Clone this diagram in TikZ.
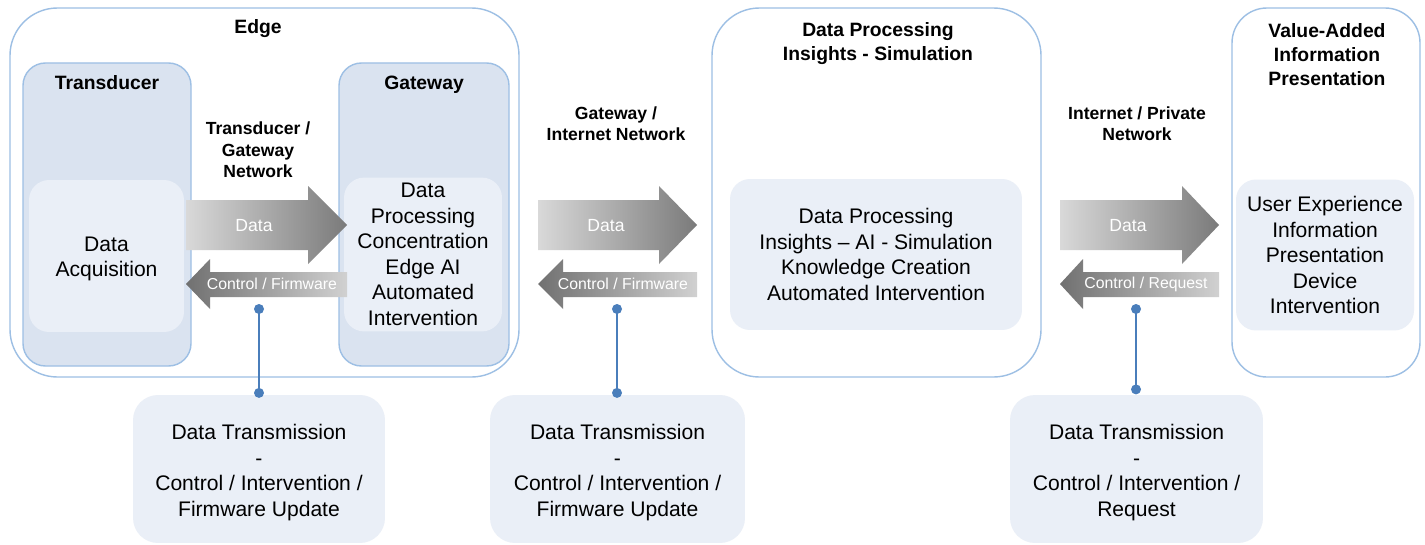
\documentclass[tikz,border=0pt]{standalone}
\usepackage{fontspec}
\setmainfont{Liberation Sans}
\definecolor{zoneline}{HTML}{9DBFE4}
\definecolor{unitfill}{HTML}{DAE3F0}
\definecolor{cardfill}{HTML}{EAEFF7}
\definecolor{pinblue}{HTML}{4A7EBB}
\tikzset{
  zone/.style={draw=zoneline, line width=0.8pt, rounded corners=0.95cm},
  unit/.style={draw=zoneline, fill=unitfill, line width=0.8pt, rounded corners=0.45cm},
  card/.style={fill=cardfill, rounded corners=0.4cm, align=center,
    font=\fontsize{12}{14.5}\selectfont},
  cardtext/.style={align=center, font=\fontsize{12}{14.5}\selectfont},
  boldtitle/.style={font=\fontsize{11}{13.6}\selectfont\bfseries, align=center},
  nettitle/.style={font=\fontsize{10}{12.2}\selectfont\bfseries, align=center},
  datalbl/.style={font=\fontsize{10}{12}\selectfont, text=white},
  ctrllbl/.style={font=\fontsize{9}{11}\selectfont, text=white},
  pin/.style={draw=pinblue, line width=1.2pt},
}
\begin{document}
\begin{tikzpicture}[x=0.02cm,y=-0.02cm]
\fill[white] (0,0) rectangle (1425,544);
\useasboundingbox (0,0) rectangle (1425,544);
% zones
\draw[zone] (10,8) rectangle (519,377);
\draw[zone] (712,8) rectangle (1041,377);
\draw[zone,rounded corners=0.7cm] (1232,8) rectangle (1420,377);
\draw[unit] (23,63) rectangle (191,366);
\draw[unit] (339,63) rectangle (509,366);
\node[boldtitle, anchor=base] (edge) at (258,33.5) {Edge};
\node[boldtitle, anchor=base] (trans) at (107,89.5) {Transducer};
\node[boldtitle, anchor=base] (gate) at (424,89.5) {Gateway};
\node[boldtitle] (dpt) at (878,43.5) {Data Processing\\Insights - Simulation};
\node[boldtitle] (vat) at (1327,54.5) {Value-Added\\Information\\Presentation};
\node[nettitle] (net1) at (258,150) {Transducer /\\Gateway\\Network};
\node[nettitle] (net2) at (616,123.5) {Gateway /\\Internet Network};
\node[nettitle] (net3) at (1137,123.5) {Internet / Private\\Network};
% cards
\node[card, minimum width=3.1cm, minimum height=3.04cm] (acq) at (106.5,256) {};
\node[cardtext] (acqtxt) at (106.5,259) {Data\\Acquisition};
\node[card, minimum width=3.16cm, minimum height=3.02cm] (gwc) at (423,254.5) {Data\\Processing\\Concentration\\Edge AI\\Automated\\Intervention};
\node[card, minimum width=5.84cm, minimum height=3.02cm] (dpc) at (876,254.5) {Data Processing\\Insights – AI - Simulation\\Knowledge Creation\\Automated Intervention};
\node[card, minimum width=3.56cm, minimum height=3.02cm] (vac) at (1325,255) {User Experience\\Information\\Presentation\\Device\\Intervention};
\node[card, rounded corners=0.5cm, minimum width=5.04cm, minimum height=2.96cm] (tx1) at (259,469) {};
\node[card, rounded corners=0.5cm, minimum width=5.1cm, minimum height=2.96cm] (tx2) at (617.5,469) {};
\node[card, rounded corners=0.5cm, minimum width=5.06cm, minimum height=2.96cm] (tx3) at (1136.5,469) {};
\node[cardtext] (tx1txt) at (259,472.5) {Data Transmission\\-\\Control / Intervention /\\Firmware Update};
\node[cardtext] (tx2txt) at (617.5,472.5) {Data Transmission\\-\\Control / Intervention /\\Firmware Update};
\node[cardtext] (tx3txt) at (1136.5,472.5) {Data Transmission\\-\\Control / Intervention /\\Request};
% arrows
\foreach \a/\b/\c in {186/308/347, 538/659/697, 1060/1182/1219}
  \shade[left color=black!15, right color=black!52]
    (\a,200) -- (\b,200) -- (\b,186) -- (\c,225) -- (\b,264) -- (\b,250) -- (\a,250) -- cycle;
\foreach \a/\b/\c in {186/210/347, 538/563/697, 1060/1083/1219}
  \shade[left color=black!56, right color=black!18]
    (\a,284) -- (\b,259) -- (\b,272) -- (\c,272) -- (\c,297) -- (\b,297) -- (\b,309) -- cycle;
\node[datalbl] (d1) at (254,226) {Data};
\node[datalbl] (d2) at (606,226) {Data};
\node[datalbl] (d3) at (1128,226) {Data};
\node[ctrllbl] (c1) at (272,284) {Control / Firmware};
\node[ctrllbl] (c2) at (623,284) {Control / Firmware};
\node[ctrllbl] (c3) at (1146,284) {Control / Request};
% pins
\coordinate (p1) at (259,309);
\coordinate (p2) at (617,309);
\coordinate (p3) at (1136,309);
\foreach \p/\q/\r in {p1/tx1/1pt, p2/tx2/1pt, p3/tx3/3pt}{
  \draw[pin] (\p) -- ([yshift=\r]\p |- \q.north);
  \fill[pinblue] (\p) circle[radius=5];
  \fill[pinblue] ([yshift=\r]\p |- \q.north) circle[radius=5];
}
\end{tikzpicture}
\end{document}
